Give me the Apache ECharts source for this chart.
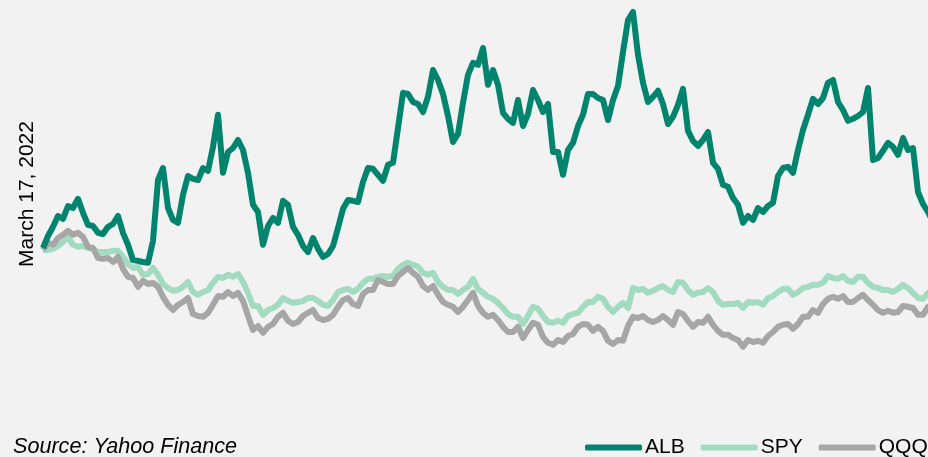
<!DOCTYPE html>
<html>
<head>
<meta charset="utf-8">
<script src="https://cdn.jsdelivr.net/npm/echarts@6/dist/echarts.min.js"></script>
<style>
html,body{margin:0;padding:0;background:#f2f2f2;overflow:hidden;}
#chart{width:1000px;height:457px;}
</style>
</head>
<body>
<div id="chart"></div>
<script>
// Indexed performance (start = 100)
const seriesNames = ['ALB', 'SPY', 'QQQ'];
const startLabel = 'March 17, 2022';
const sourceLabel = 'Source: Yahoo Finance';

const alb = [
  100.5, 103.5, 105.8, 108.5, 107.8, 111, 110.5, 112.8, 109.3, 106.3,
  106, 104.3, 104, 105.8, 106.5, 108.5, 104.3, 101.3, 97.5, 97.3,
  97, 96.8, 102.3, 117.5, 120.5, 110.5, 107.5, 106.8, 113.8, 118.5,
  117.8, 117.5, 120.5, 119.8, 125.8, 133.8, 119.3, 124.5, 125.5, 127.5,
  125, 119.3, 111.3, 109.5, 101.3, 106, 108, 106.8, 112.3, 111.3,
  105.8, 103.8, 101, 99.5, 103, 100.3, 98.3, 99, 101, 105.5,
  110.3, 112.5, 112.3, 112, 117, 120.5, 120.3, 118.8, 117.3, 121.3,
  121.8, 130.5, 139.3, 139, 137, 136.5, 134.5, 138.3, 145, 142.5,
  139, 133.5, 127, 129, 136.8, 143.8, 146.8, 146.3, 150.5, 141.3,
  145, 141.3, 134.3, 132.8, 131.8, 137.5, 131, 134, 140, 137.5,
  134.5, 136.5, 124.5, 124.5, 118.8, 125, 126.8, 131, 133.8, 139,
  139, 138, 137.5, 132.5, 137.5, 141, 149.5, 157.5, 159.5, 148.8,
  141.8, 137, 138.3, 139.8, 136.5, 131.5, 133.3, 136.3, 140.3, 129.8,
  127.3, 126, 127.5, 129.5, 121.8, 120.3, 116.3, 115.8, 113, 111.3,
  106.8, 108.5, 107.5, 110.5, 109.5, 111, 111.8, 118.5, 120.5, 120.8,
  119.3, 125, 130, 133.8, 137.8, 136.5, 138, 141.8, 142.5, 137,
  135, 132.3, 132.8, 133.5, 134.5, 140.5, 122.5, 123, 124.8, 126.8,
  125.8, 123.8, 128, 125, 125.5, 114.5, 111.5, 109.5, 107
];
const spy = [
  100, 100, 100.3, 101, 102, 103.3, 101.3, 100.8, 101, 100.5,
  100.3, 99.5, 99.5, 99.5, 99.8, 99.8, 98.3, 96.5, 95.5, 95.8,
  93.8, 94, 95.5, 93.8, 91.5, 90.5, 89.8, 90, 90.8, 92,
  89.5, 88.8, 89.5, 90, 91.8, 93.3, 93, 93.8, 93.3, 94,
  92, 89.3, 86, 86, 83.8, 85, 85.5, 86.3, 88, 87.3,
  86.8, 87, 87.3, 88, 88, 87.3, 86.3, 86, 87.5, 89.5,
  90, 90.3, 89.5, 90.3, 91.8, 92.8, 92.8, 93.3, 93.5, 93.3,
  93.5, 95.3, 96.3, 96.8, 96.3, 95.8, 94.3, 93.8, 94.3, 92,
  90.8, 90, 90, 89, 90, 90.8, 92.8, 90.3, 89.3, 88.3,
  87.8, 86.8, 85.5, 84, 83.3, 83.3, 81.5, 83.5, 85.8, 85.3,
  83.5, 82, 81.8, 82.3, 81.8, 83.5, 84, 84.3, 85.8, 87,
  87, 88.3, 87.8, 85.8, 84.5, 85.8, 86.8, 85.5, 90.5, 90,
  90.3, 89.3, 89.8, 90.5, 91, 90, 89.5, 92, 91.8, 90,
  88.8, 89.3, 89.5, 90.5, 89.5, 87.3, 86.3, 86.5, 86.5, 86.8,
  85.5, 87, 86.8, 87, 86.3, 88, 88.5, 89.5, 90.3, 90.3,
  88.8, 89.5, 90.5, 90.8, 91.3, 91.3, 91.8, 93.5, 93, 92.8,
  93.5, 92.3, 92, 93.3, 93.3, 91.8, 90.8, 90.5, 90, 90,
  89.5, 90.3, 91.3, 90.5, 89.3, 88, 87.8, 89.3, 90
];
const qqq = [
  100, 101.8, 101.3, 103, 103.8, 104.8, 103.8, 104.3, 103.3, 100.8,
  100.5, 98, 97.8, 98, 97, 98.3, 95.3, 93.3, 93, 90.8,
  92.3, 91.5, 91.8, 90.8, 88.3, 86.3, 85, 86.3, 87, 88,
  84, 83.5, 83.3, 84.3, 86.3, 88.5, 88.3, 89.5, 88.5, 89.3,
  87.3, 83.5, 80, 81, 79.3, 80.8, 81.5, 83.3, 84.3, 82.3,
  81.5, 82, 83.5, 84.3, 85, 83, 82.5, 82.8, 83.8, 85.8,
  87.5, 88, 86.5, 86, 89, 90, 90, 92.5, 92, 91.5,
  91.5, 93.5, 94.5, 95.5, 94.3, 93.3, 91, 90, 91, 88.8,
  87, 86.3, 85.8, 84.5, 85.8, 87.5, 89.3, 86, 84.3, 83.3,
  83.8, 82.5, 80.8, 79.5, 79.5, 80.8, 78, 80, 81.8, 81.3,
  78.3, 76.8, 76.3, 77.5, 77, 78.5, 79, 80.8, 81.5, 81.3,
  79.8, 80.8, 79.8, 77.3, 76.5, 77.5, 77.3, 81, 83.3, 83,
  83.5, 82.5, 82, 82.5, 83.5, 82.5, 81.3, 84.5, 84, 82.3,
  80.8, 82, 81.8, 83.3, 81.3, 79.8, 78.8, 78.8, 78, 77.5,
  75.8, 77.5, 77, 77.3, 76.8, 78.5, 79.5, 80.8, 81.3, 81.5,
  80.3, 81.5, 83.3, 83.3, 85, 84.3, 86.5, 87.8, 88.3, 87.8,
  88.5, 87, 87, 88, 88.8, 87.5, 86.3, 85, 84.3, 84.8,
  84.3, 84.5, 86, 85.8, 85.5, 83.8, 83.8, 85.8, 86.5
];
// category labels: sequential observations from the start date
const categories = alb.map((_, i) => 'T' + i);

const colors = ['#00846E', '#A3DBC0', '#A6A6A6'];
const font = '"Liberation Sans", Arial, sans-serif';

const chart = echarts.init(document.getElementById('chart'), null, {renderer: 'canvas'});
chart.setOption({
  animation: false,
  backgroundColor: '#f2f2f2',
  grid: {left: 43, right: 67, top: 0, bottom: 0, containLabel: false},
  xAxis: {
    type: 'category', data: categories, boundaryGap: false,
    show: false
  },
  yAxis: {
    type: 'value', min: 48.25, max: 162.5, show: false,
    splitLine: {show: false}
  },
  legend: {
    data: seriesNames,
    left: 580, top: 432,
    icon: 'roundRect',
    itemWidth: 57, itemHeight: 6,
    itemGap: 16,
    textStyle: {fontFamily: font, fontSize: 21, color: '#000', padding: [0, 0, 0, -2]}
  },
  graphic: [
    {
      type: 'text', x: 27, y: 194, rotation: Math.PI / 2,
      style: {text: startLabel, x: 0, y: 0, align: 'center', verticalAlign: 'middle',
        font: '21px ' + font, fill: '#000'}
    },
    {
      type: 'text', x: 13, y: 447,
      style: {text: sourceLabel, x: 0, y: 0, align: 'left', verticalAlign: 'middle',
        font: 'italic 21.6px ' + font, fill: '#000'}
    }
  ],
  series: [
    {name: seriesNames[0], type: 'line', data: alb, showSymbol: false, z: 3,
      lineStyle: {width: 6, color: colors[0], join: 'round'}, itemStyle: {color: colors[0]}},
    {name: seriesNames[1], type: 'line', data: spy, showSymbol: false, z: 1,
      lineStyle: {width: 6, color: colors[1], join: 'round'}, itemStyle: {color: colors[1]}},
    {name: seriesNames[2], type: 'line', data: qqq, showSymbol: false, z: 2,
      lineStyle: {width: 6, color: colors[2], join: 'round'}, itemStyle: {color: colors[2]}}
  ]
});
</script>
</body>
</html>
